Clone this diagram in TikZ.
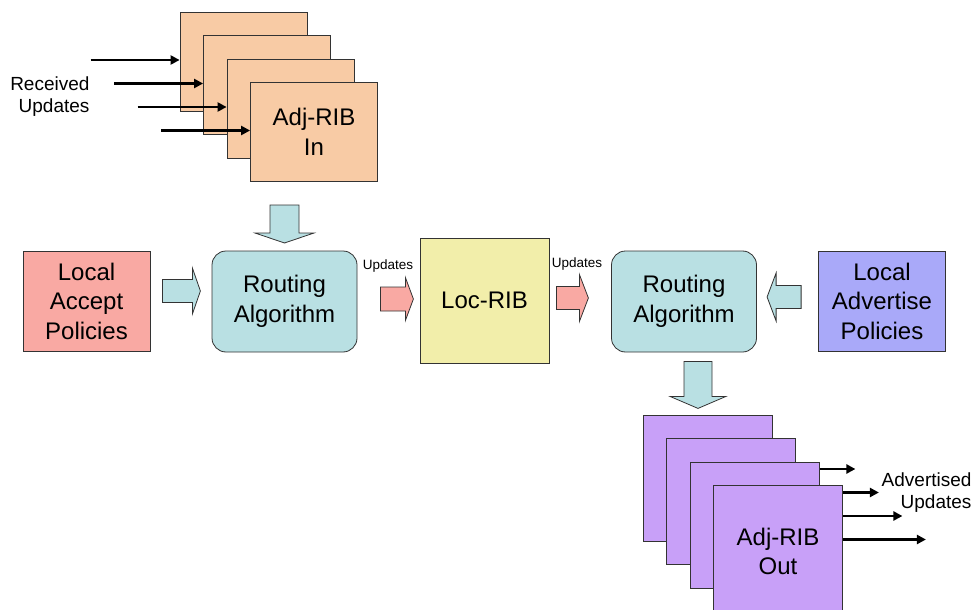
\documentclass[tikz,border=0pt]{standalone}
\usepackage{fontspec}
\setmainfont{Liberation Sans}
\usepackage{tikz}
\usetikzlibrary{arrows.meta,positioning,calc}
\definecolor{ribinfill}{HTML}{F8CBA5}
\definecolor{acceptfill}{HTML}{F9A9A3}
\definecolor{locribfill}{HTML}{F2EEAA}
\definecolor{algofill}{HTML}{B9E0E3}
\definecolor{advfill}{HTML}{A9A9F9}
\definecolor{riboutfill}{HTML}{C8A0F8}
\tikzset{
  every node/.style={
    font=\fontsize{24}{29.5}\selectfont
  },
  box/.style={
    shape=rectangle,
    draw=black!80,
    line width=0.8pt,
    inner sep=0pt,
    align=center
  },
  ribin/.style={
    box,
    fill=ribinfill,
    minimum width=127pt,
    minimum height=99pt
  },
  ribout/.style={
    box,
    fill=riboutfill,
    minimum width=129pt,
    minimum height=126pt
  },
  policy/.style={
    box,
    minimum width=127pt,
    minimum height=100pt
  },
  algo/.style={
    box,
    rounded corners=14pt,
    fill=algofill,
    minimum width=145pt,
    minimum height=101pt
  },
  upd/.style={
    line width=2.4pt,
    -{Triangle[length=9pt,width=9pt]}
  },
  side text/.style={
    align=right,
    anchor=east,
    font=\fontsize{19}{22}\selectfont
  },
  small text/.style={
    font=\fontsize{13.5}{15}\selectfont
  },
  fat/.style={
    draw=black!80,
    line width=0.8pt
  },
  pics/fatarrow/.style n args={4}{
    code={
      \path[pic actions] (0,#2) -- ({#1-#4},#2) -- ({#1-#4},#3) -- (#1,0)
        -- ({#1-#4},-#3) -- ({#1-#4},-#2) -- (0,-#2) -- cycle;
    }
  }
}
\begin{document}
\begin{tikzpicture}[x=1pt,y=1pt]
  \useasboundingbox (0,0) rectangle (978,-610);

  % incoming side
  \node [ribin] (in1) at (243.5,-61.5) {};
  \coordinate (rx1) at ([xshift=-89pt,yshift=1.5pt]in1.west);
  \draw [upd] (rx1) -- (rx1 -| in1.west);
  \node [ribin] (in2) at ([shift={(23.5,-23.5)}]in1) {};
  \coordinate (rx2) at ([xshift=-89pt,yshift=1.5pt]in2.west);
  \draw [upd] (rx2) -- (rx2 -| in2.west);
  \node [ribin] (in3) at ([shift={(23.5,-23.5)}]in2) {};
  \coordinate (rx3) at ([xshift=-89pt,yshift=1.5pt]in3.west);
  \draw [upd] (rx3) -- (rx3 -| in3.west);
  \node [ribin] (in4) at ([shift={(23.5,-23.5)}]in3) {Adj-RIB\\In};
  \coordinate (rx4) at ([xshift=-89pt,yshift=1.5pt]in4.west);
  \draw [upd] (rx4) -- (rx4 -| in4.west);
  \node [side text] (received) at (93,-97) {Received\\Updates};

  % decision process
  \node [policy, fill=acceptfill] (accept) at (86.5,-301) {Local\\Accept\\Policies};
  \node [algo] (algoin) at (284.5,-301.5) {Routing\\Algorithm};
  \node [box, fill=locribfill, minimum width=129pt, minimum height=125pt]
    (locrib) at (484.5,-300.5) {Loc-RIB};
  \node [algo] (algoout) at (684,-301.5) {Routing\\Algorithm};
  \node [policy, fill=advfill] (advertise) at (882,-301) {Local\\Advertise\\Policies};
  \node [small text] (updin) at (388,-266) {Updates};
  \node [small text] (updout) at (577,-264) {Updates};

  \pic [fat, fill=algofill, rotate=-90] at (algoin.north |- 0,-205) {fatarrow={38}{14.5}{29.5}{10}};
  \pic [fat, fill=algofill] at ($(accept.east)+(12,10)$) {fatarrow={38}{11.5}{23}{8}};
  \pic [fat, fill=acceptfill] at ($(algoin.east)+(23,2.5)$) {fatarrow={33}{12}{21.5}{8}};
  \pic [fat, fill=acceptfill] at ($(locrib.east)+(7,2.5)$) {fatarrow={32}{11.5}{23.5}{9}};
  \pic [fat, fill=algofill, rotate=180] at ($(advertise.west)+(-17,4)$) {fatarrow={34}{11.5}{24}{9}};
  \pic [fat, fill=algofill, rotate=-90] at ($(algoout.south)+(14,-9)$) {fatarrow={47}{14}{28}{12}};

  % outgoing side
  \node [ribout] (out1) at (707.5,-478) {};
  \coordinate (tx1) at ([xshift=83pt,yshift=9pt]out1.east);
  \draw [upd] ([yshift=9pt]out1.east) -- (tx1);
  \node [ribout] (out2) at ([shift={(23.5,-23.5)}]out1) {};
  \coordinate (tx2) at ([xshift=83pt,yshift=9pt]out2.east);
  \draw [upd] ([yshift=9pt]out2.east) -- (tx2);
  \node [ribout] (out3) at ([shift={(23.5,-23.5)}]out2) {};
  \coordinate (tx3) at ([xshift=83pt,yshift=9pt]out3.east);
  \draw [upd] ([yshift=9pt]out3.east) -- (tx3);
  \node [ribout] (out4) at ([shift={(23.5,-23.5)}]out3) {\\[-6pt]Adj-RIB\\Out};
  \coordinate (tx4) at ([xshift=83pt,yshift=9pt]out4.east);
  \draw [upd] ([yshift=9pt]out4.east) -- (tx4);
  \node [side text] (advertised) at (975,-492.5) {Advertised\\Updates};
\end{tikzpicture}
\end{document}
